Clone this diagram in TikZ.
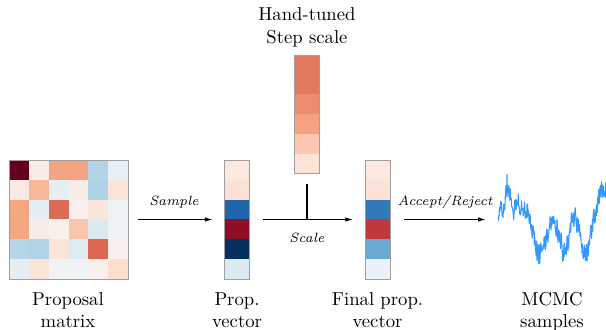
\documentclass[tikz,border=0pt]{standalone}
\usetikzlibrary{arrows.meta,fit}
\begin{document}
\begin{tikzpicture}[x=0.535pt,y=-0.535pt,
  frame/.style={draw=gray!75,line width=0.45pt,inner sep=0pt},
  arr/.style={line width=0.55pt,-{Latex[length=4pt,width=2.4pt]}},
  lbl/.style={font=\fontsize{10}{12}\selectfont,align=center,anchor=base},
  steplbl/.style={font=\fontsize{7.2}{9}\selectfont\itshape,anchor=base},
  trace/.style={line width=0.55pt,draw={rgb,255:red,51;green,153;blue,255},line join=round}]
\useasboundingbox (0,0) rectangle (606,330);

% proposal matrix, 6x6 cells
\foreach \row [count=\i from 0] in {
  {67001F,F9EBE5,F3A481,F4A27F,B1D5E7,E6EFF4},
  {F9E9E2,F7B799,E5EEF4,F9ECE7,AED3E6,FBE3D7},
  {F5A784,E6EEF4,DC6B55,F9F0ED,FBE4D8,EDF2F5},
  {F4A582,F9EBE5,F9EFEB,F9C6AD,DCE9F1,EDF2F5},
  {B4D6E8,B0D4E6,FBE5D9,DDEAF2,DC6651,F9EFED},
  {E5EEF4,FBE5D8,EEF3F6,EFF3F6,F9EFEC,FBDFCD}}{
  \foreach \c [count=\j from 0] in \row {
    \definecolor{cellc}{HTML}{\c}
    \fill[cellc] ({9+\j*119/6},{160+\i*119/6}) rectangle ++(119/6+0.3,119/6+0.3);
  }
}
\node[frame,fit={(9,160)(128,279)}] (mat) {};

% sampled proposal vector
\foreach \c [count=\i from 0] in {FBE9E0,FCE2D6,2166AC,8F0D27,053061,DBE9F1}{
  \definecolor{cellc}{HTML}{\c}
  \fill[cellc] (224,{160+\i*119/6}) rectangle ++(25,119/6+0.3);
}
\node[frame,fit={(224,160)(249,279)}] (prop) {};

% hand-tuned step scale
\foreach \c [count=\i from 0] in {E3785F,E3785F,EB8B6F,F5A283,FBC7AE,FCE3D6}{
  \definecolor{cellc}{HTML}{\c}
  \fill[cellc] (294.5,{55+\i*118.5/6}) rectangle ++(25,118.5/6+0.3);
}
\node[frame,fit={(294.5,55)(319.5,173.5)}] (scalevec) {};

% final proposal vector
\foreach \c [count=\i from 0] in {FBE9E0,FCE2D6,3079B6,C1373B,6AAAD2,EBF1F5}{
  \definecolor{cellc}{HTML}{\c}
  \fill[cellc] (365,{160+\i*119/6}) rectangle ++(25,119/6+0.3);
}
\node[frame,fit={(365,160)(390,279)}] (final) {};

% MCMC trace: trend plus noise
\pgfmathsetseed{11}
\def\tracepts{}
\gdef\noiseval{0}
\foreach \xa/\ya/\xb/\yb in {
  498/215/501/208, 501/208/504/205, 504/205/507/182, 507/182/510/197,
  510/197/514/210, 514/210/517/196, 517/196/520/205, 520/205/524/213,
  524/213/527/207, 527/207/530/224, 530/224/534/238, 534/238/537/250,
  537/250/539/258, 539/258/542/247, 542/247/546/240, 546/240/550/226,
  550/226/553/214, 553/214/557/229, 557/229/560/240, 560/240/563/252,
  563/252/566/243, 566/243/569/243, 569/243/572/215, 572/215/576/220,
  576/220/580/235, 580/235/584/250, 584/250/587/254, 587/254/590/240,
  590/240/594/217, 594/217/597/206, 597/206/600/195, 600/195/603/194,
  603/194/606/186}{
  \foreach \k in {1,...,10}{
    \pgfmathsetmacro\nz{0.3*\noiseval+10*rand}
    \xdef\noiseval{\nz}
    \pgfmathsetmacro\px{\xa+(\xb-\xa)*\k/10}
    \pgfmathsetmacro\py{\ya+(\yb-\ya)*\k/10+\nz}
    \xdef\tracepts{\tracepts (\px,\py)}
  }
}
\begin{scope}
  \clip (490,150) rectangle (606,290);
  \edef\drawtrace{\noexpand\draw[trace] (498,215) plot coordinates {\tracepts};}
  \drawtrace
\end{scope}
\node[inner sep=0pt,fit={(498,172)(606,270)}] (samples) {};

% connectors
\draw[arr,shorten <=5.35pt,shorten >=6pt] (mat.east) -- (prop.west);
\draw[arr,shorten <=7pt,shorten >=6.3pt] (prop.east) -- (final.west);
\draw[line width=0.55pt,shorten <=5.6pt] (scalevec.south) -- (scalevec.south |- prop.east);
\draw[arr,shorten <=7pt,shorten >=6.4pt] (final.east) -- (samples.west |- final.east);

% connector labels
\node[steplbl] (lsample) at (174,206) {Sample};
\node[steplbl] (lscale) at (307,242) {Scale};
\node[steplbl] (laccept) at (445,206) {Accept/Reject};

% block labels (base anchor sits on the last line)
\node[lbl] (tmat) at (68,327.7) {Proposal\\matrix};
\node[lbl] (tprop) at (237,327.7) {Prop.\\vector};
\node[lbl] (tfinal) at (377.5,327.7) {Final prop.\\vector};
\node[lbl] (tsamp) at (552,327.7) {MCMC\\samples};
\node[lbl] (tscale) at (307,43.3) {Hand-tuned\\Step scale};
\end{tikzpicture}
\end{document}
